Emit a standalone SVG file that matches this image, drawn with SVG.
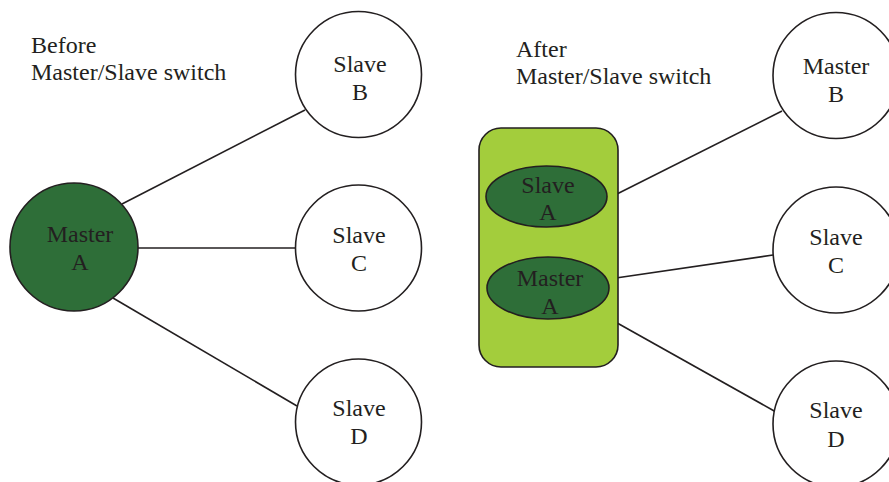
<svg xmlns="http://www.w3.org/2000/svg" width="889" height="482" viewBox="0 0 889 482">
<style>
text{font-family:"Liberation Serif","Times New Roman",serif;font-size:24px;fill:#231f20}
.c{text-anchor:middle}
.w{fill:#fff;stroke:#231f20;stroke-width:1.6}
.g{fill:#2e6e38;stroke:#231f20;stroke-width:1.6}
.l{stroke:#231f20;stroke-width:1.6;fill:none}
</style>
<rect width="889" height="482" fill="#fff"/>
<g id="labels">
<text x="31" y="53">Before</text>
<text x="31" y="80">Master/Slave switch</text>
<text x="516" y="57">After</text>
<text x="516" y="84">Master/Slave switch</text>
</g>
<g id="connectors">
<line class="l" x1="122" y1="204" x2="305" y2="110"/>
<line class="l" x1="138" y1="248" x2="295" y2="248"/>
<line class="l" x1="113" y1="298" x2="297" y2="406"/>
<line class="l" x1="607" y1="199" x2="782" y2="111"/>
<line class="l" x1="609" y1="279" x2="773" y2="255"/>
<line class="l" x1="594" y1="310" x2="776" y2="412"/>
</g>
<g id="masterA">
<circle class="g" cx="74" cy="247" r="64"/>
<text class="c" x="80" y="242">Master</text>
<text class="c" x="80" y="270">A</text>
</g>
<g id="slaveB">
<circle class="w" cx="358.5" cy="74.5" r="63"/>
<text class="c" x="360" y="72">Slave</text>
<text class="c" x="360" y="100">B</text>
</g>
<g id="slaveC">
<circle class="w" cx="358.5" cy="248" r="63"/>
<text class="c" x="359" y="243">Slave</text>
<text class="c" x="359" y="271">C</text>
</g>
<g id="slaveD">
<circle class="w" cx="358.5" cy="422" r="63"/>
<text class="c" x="359" y="416">Slave</text>
<text class="c" x="359" y="444">D</text>
</g>
<g id="group">
<rect x="479" y="128" width="139" height="239" rx="22" fill="#a3cd3c" stroke="#231f20" stroke-width="1.6"/>
</g>
<g id="slaveA">
<ellipse class="g" cx="546.5" cy="196.5" rx="60.5" ry="30.5"/>
<text class="c" x="548" y="193">Slave</text>
<text class="c" x="548" y="220">A</text>
</g>
<g id="masterA2">
<ellipse class="g" cx="548" cy="288" rx="61" ry="31"/>
<text class="c" x="550" y="286">Master</text>
<text class="c" x="550" y="314">A</text>
</g>
<g id="masterB">
<circle class="w" cx="836" cy="75.5" r="63"/>
<text class="c" x="836" y="74">Master</text>
<text class="c" x="836" y="102">B</text>
</g>
<g id="slaveC2">
<circle class="w" cx="836" cy="250" r="63"/>
<text class="c" x="836" y="245">Slave</text>
<text class="c" x="836" y="273">C</text>
</g>
<g id="slaveD2">
<circle class="w" cx="836" cy="424" r="63"/>
<text class="c" x="836" y="418">Slave</text>
<text class="c" x="836" y="447">D</text>
</g>
</svg>
